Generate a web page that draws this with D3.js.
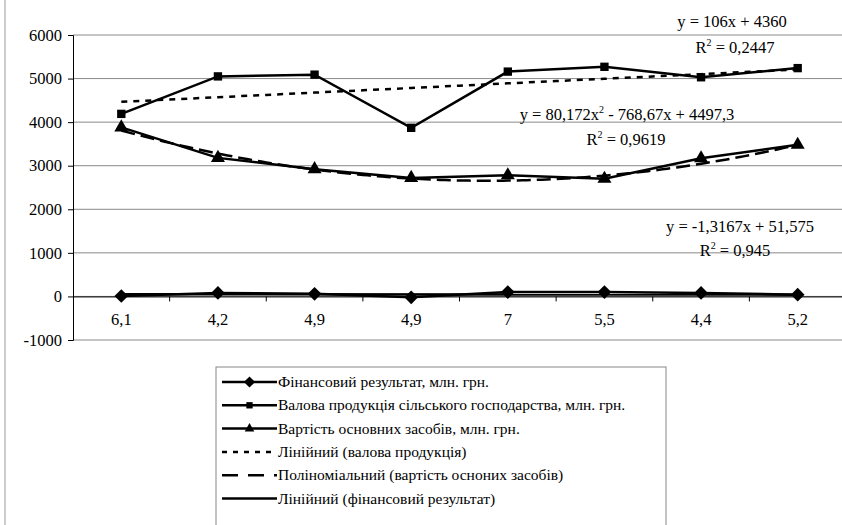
<!DOCTYPE html>
<html><head><meta charset="utf-8">
<script src="https://cdn.jsdelivr.net/npm/d3@7"></script>
<style>html,body{margin:0;padding:0;background:#fff;}svg{display:block;}svg text{font-family:"Liberation Serif","Times New Roman",serif !important;fill:#000;}</style>
</head><body><svg id="c" width="842" height="525"></svg>
<script>
const categories = ["6,1","4,2","4,9","4,9","7","5,5","4,4","5,2"];
const finResult = [10, 80, 60, -20, 100, 100, 80, 40];
const grossOutput = [4190, 5050, 5090, 3870, 5160, 5270, 5030, 5240];
const fixedAssets = [3880, 3180, 2920, 2720, 2780, 2700, 3170, 3480];
const yTicks = [-1000, 0, 1000, 2000, 3000, 4000, 5000, 6000];
const linGrossCoef = [106, 4360];
const polyAssetsCoef = [80.172, -768.67, 4497.3];
const linFinCoef = [-1.3167, 51.575];
const eqLabels = [
  {t:"y = 106x + 4360", x:732, y:27},
  {t:"R²", r:" = 0,2447", x:735, y:53},
  {t:"y = 80,172x² - 768,67x + 4497,3", x:627, y:120},
  {t:"R²", r:" = 0,9619", x:626, y:145},
  {t:"y = -1,3167x + 51,575", x:740, y:232},
  {t:"R²", r:" = 0,945", x:735, y:256}
];
const legendItems = [
  {name:"Фінансовий результат, млн. грн.", type:"diamond"},
  {name:"Валова продукція сільського господарства, млн. грн.", type:"square"},
  {name:"Вартість основних засобів, млн. грн.", type:"triangle"},
  {name:"Лінійний (валова продукція)", type:"dot"},
  {name:"Поліноміальний (вартість осноних засобів)", type:"dash"},
  {name:"Лінійний (фінансовий результат)", type:"solid"}
];

const svg = d3.select("#c");
const FONT = '"Liberation Serif","Times New Roman",serif';
const L = 73, R = 846, T = 35, B = 340;
const x = d3.scaleBand().domain(d3.range(categories.length)).range([L, R]);
const cx = i => x(i) + x.bandwidth()/2;
const xc = v => cx(0) + (v-1)*(cx(1)-cx(0));
const y = d3.scaleLinear().domain([-1000, 6000]).range([B, T]);

svg.append("line").attr("x1",5).attr("x2",5).attr("y1",0).attr("y2",525).attr("stroke","#999").attr("stroke-width",1);

svg.append("g").selectAll("line").data(yTicks).join("line")
  .attr("x1",L).attr("x2",R).attr("y1",d=>y(d)).attr("y2",d=>y(d))
  .attr("stroke","#8a8a8a").attr("stroke-width",1);

const yAxis = d3.axisLeft(y).tickValues(yTicks).tickSize(5).tickFormat(d=>d);
const gy = svg.append("g").attr("transform",`translate(${L},0)`).call(yAxis);
gy.attr("font-family",FONT);
gy.select(".domain").attr("stroke","#000");
gy.selectAll(".tick line").attr("stroke","#000");
gy.selectAll("text").attr("font-size",16.5).style("font-family",FONT).attr("dx",-3);

const xAxis = d3.axisBottom(x).tickSize(0).tickFormat(i=>categories[i]);
const gx = svg.append("g").attr("transform",`translate(0,${y(0)})`).call(xAxis);
gx.attr("font-family",FONT);
gx.select(".domain").attr("stroke","#000").attr("stroke-width",1);
gx.selectAll("text").attr("font-size",16.5).style("font-family",FONT).attr("dy","1.55em");
svg.append("g").selectAll("line").data(d3.range(1, categories.length)).join("line")
  .attr("x1",i=>x(i)).attr("x2",i=>x(i)).attr("y1",y(0)).attr("y2",y(0)+5)
  .attr("stroke","#000");

const line = d3.line().x((d,i)=>cx(i)).y(d=>y(d));

const linG = d3.range(1, 8.001, 0.5).map(v=>[xc(v), y(linGrossCoef[0]*v+linGrossCoef[1])]);
svg.append("path").attr("d", d3.line()(linG)).attr("fill","none").attr("stroke","#000").attr("stroke-width",2.5).attr("stroke-dasharray","6,6");
const polyA = d3.range(1, 8.001, 0.05).map(v=>[xc(v), y(polyAssetsCoef[0]*v*v+polyAssetsCoef[1]*v+polyAssetsCoef[2])]);
svg.append("path").attr("d", d3.line()(polyA)).attr("fill","none").attr("stroke","#000").attr("stroke-width",2.5).attr("stroke-dasharray","14,6");
const linF = [1,8].map(v=>[xc(v), y(linFinCoef[0]*v+linFinCoef[1])]);
svg.append("path").attr("d", d3.line()(linF)).attr("fill","none").attr("stroke","#000").attr("stroke-width",2.5);

const series = [
  {data:finResult, type:"diamond"},
  {data:grossOutput, type:"square"},
  {data:fixedAssets, type:"triangle"}
];
const symType = {diamond:d3.symbolDiamond2, square:d3.symbolSquare, triangle:d3.symbolTriangle};
const symSize = {diamond:120, square:70, triangle:85};
series.forEach(s=>{
  svg.append("path").attr("d", line(s.data)).attr("fill","none").attr("stroke","#000").attr("stroke-width",2.5);
  svg.append("g").selectAll("path").data(s.data).join("path")
    .attr("transform",(d,i)=>`translate(${cx(i)},${y(d)})`)
    .attr("d", d3.symbol().type(symType[s.type]).size(symSize[s.type])()).attr("fill","#000");
});

eqLabels.forEach(e=>{
  const t = svg.append("text").attr("x",e.x).attr("y",e.y).attr("text-anchor","middle").attr("font-size",16.5).style("font-family",FONT);
  if (e.r) {
    t.append("tspan").text("R");
    t.append("tspan").text("2").attr("font-size",10).attr("dy",-7);
    t.append("tspan").text(e.r).attr("dy",7);
  } else {
    const parts = e.t.split("²");
    t.append("tspan").text(parts[0]);
    if (parts.length>1){
      t.append("tspan").text("2").attr("font-size",10).attr("dy",-7);
      t.append("tspan").text(parts[1]).attr("dy",7);
    }
  }
});

const lg = svg.append("g");
const LX = 216, LY = 367, LW = 450, step = 23.3;
lg.append("rect").attr("x",LX).attr("y",LY).attr("width",LW).attr("height",200).attr("fill","#fff").attr("stroke","#888").attr("stroke-width",1);
legendItems.forEach((it,k)=>{
  const yy = LY + 15 + k*step;
  const x1 = LX+6, x2 = LX+61;
  const ln = lg.append("line").attr("x1",x1).attr("x2",x2).attr("y1",yy).attr("y2",yy).attr("stroke","#000").attr("stroke-width",2.5);
  if (it.type==="dot") ln.attr("stroke-dasharray","5,6");
  if (it.type==="dash") ln.attr("stroke-dasharray","16,10");
  if (symType[it.type]) lg.append("path").attr("transform",`translate(${(x1+x2)/2},${yy})`)
    .attr("d", d3.symbol().type(symType[it.type]).size(it.type==="diamond"?80:40)()).attr("fill","#000");
  lg.append("text").attr("x",x2+1).attr("y",yy+5).attr("font-size",15.5).style("font-family",FONT).text(it.name);
});
</script></body></html>
